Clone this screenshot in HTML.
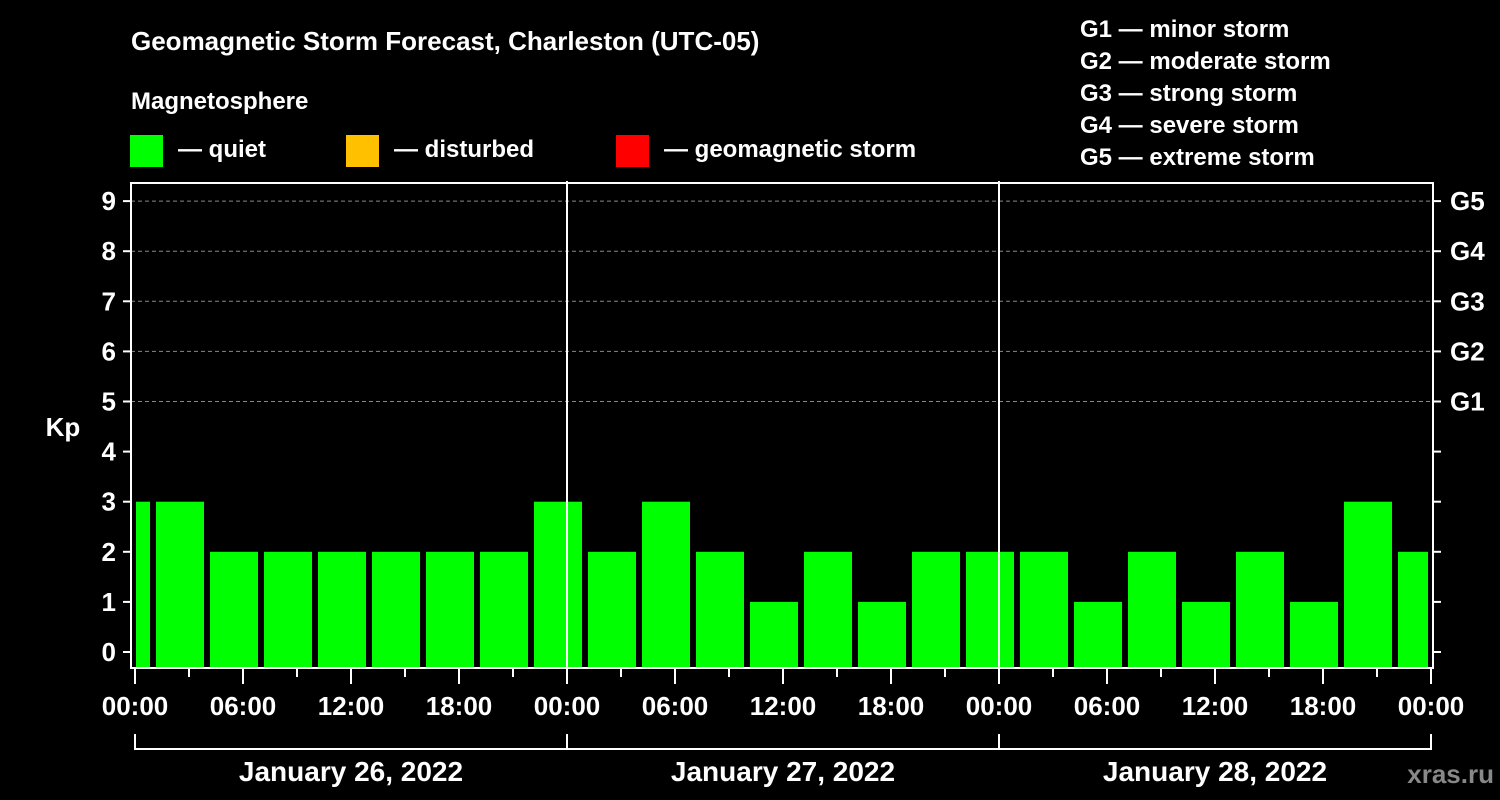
<!DOCTYPE html>
<html><head><meta charset="utf-8"><style>
html,body{margin:0;padding:0;background:#000;}
svg{display:block;font-family:"Liberation Sans",Arial,sans-serif;font-weight:bold;}
</style></head><body>
<svg id="chart" width="1500" height="800" viewBox="0 0 1500 800">
<rect x="0" y="0" width="1500" height="800" fill="#000"/>
<text x="131" y="50" fill="#fff" font-size="26">Geomagnetic Storm Forecast, Charleston (UTC-05)</text>
<text x="131" y="109" fill="#fff" font-size="24">Magnetosphere</text>
<g><rect x="130" y="135" width="33" height="32" fill="#00ff00"/><text x="178" y="157" fill="#fff" font-size="24">— quiet</text></g>
<g><rect x="346" y="135" width="33" height="32" fill="#ffc000"/><text x="394" y="157" fill="#fff" font-size="24">— disturbed</text></g>
<g><rect x="616" y="135" width="33" height="32" fill="#ff0000"/><text x="664" y="157" fill="#fff" font-size="24">— geomagnetic storm</text></g>
<g fill="#fff" font-size="24">
<text x="1080" y="37">G1 — minor storm</text>
<text x="1080" y="69">G2 — moderate storm</text>
<text x="1080" y="101">G3 — strong storm</text>
<text x="1080" y="133">G4 — severe storm</text>
<text x="1080" y="165">G5 — extreme storm</text>
</g>
<text x="63" y="436" fill="#fff" font-size="26" text-anchor="middle">Kp</text>
<text x="1494" y="783" fill="#888" font-size="26" text-anchor="end">xras.ru</text>
<g id="grid"></g><g id="bars"></g><g id="axes"></g>
</svg>
<script>
const kpValues=[3,3,2,2,2,2,2,2,3,2,3,2,1,2,1,2,2,2,1,2,1,2,1,3,2];
const barStartHours=[-2,1,4,7,10,13,16,19,22,25,28,31,34,37,40,43,46,49,52,55,58,61,64,67,70];
const yTicks=[0,1,2,3,4,5,6,7,8,9];
const gLabels=["G1","G2","G3","G4","G5"];
const gLevels=[5,6,7,8,9];
const xTickLabels=["00:00","06:00","12:00","18:00","00:00","06:00","12:00","18:00","00:00","06:00","12:00","18:00","00:00"];
const dayLabels=["January 26, 2022","January 27, 2022","January 28, 2022"];
const NS="http://www.w3.org/2000/svg";
const X0=135,PXH=18,HOURS=72,Y0=652,PXK=50.1;
const L=131,R=1433,T=183,B=668;
const xs=h=>X0+h*PXH, ys=k=>Y0-k*PXK;
function mk(tag,attrs,parent){const e=document.createElementNS(NS,tag);for(const k in attrs)e.setAttribute(k,attrs[k]);parent.appendChild(e);return e;}
const grid=document.getElementById('grid'),bars=document.getElementById('bars'),axes=document.getElementById('axes');
gLevels.forEach((k,i)=>{
  const l=mk('line',{x1:L,x2:R,y1:ys(k),y2:ys(k),stroke:'#888','stroke-dasharray':'4,3','stroke-width':1},grid);
  
  
  const t=mk('text',{x:1450,y:ys(k)+9,fill:'#fff','font-size':26},axes);t.textContent=gLabels[i];
  
  
});
kpValues.forEach((v,i)=>{
  let a=xs(barStartHours[i])+3,b=xs(barStartHours[i]+3)-3;
  a=Math.max(a,L+5);b=Math.min(b,R-5);
  const c=v>=5?'#ff0000':(v>=4?'#ffc000':'#00ff00');
  const r=mk('rect',{x:a,y:ys(v),width:b-a,height:B-ys(v),fill:c},bars);
  
  
});
const fr=mk('rect',{x:L,y:T,width:R-L,height:B-T,fill:'none',stroke:'#fff','stroke-width':2},axes);


[24,48].forEach(h=>{const l=mk('line',{x1:xs(h),x2:xs(h),y1:181,y2:B,stroke:'#fff','stroke-width':2},axes);
  
  });
yTicks.forEach(k=>{
  mk('line',{x1:123,x2:L,y1:ys(k),y2:ys(k),stroke:'#fff','stroke-width':2},axes);
  mk('line',{x1:R,x2:1441,y1:ys(k),y2:ys(k),stroke:'#fff','stroke-width':2},axes);
  const t=mk('text',{x:116,y:ys(k)+9,fill:'#fff','font-size':26,'text-anchor':'end'},axes);t.textContent=k;
  
  
});
for(let h=0;h<=HOURS;h+=3){
  const major=h%6===0;
  mk('line',{x1:xs(h),x2:xs(h),y1:B,y2:major?684:677,stroke:'#fff','stroke-width':2},axes);
}
xTickLabels.forEach((s,i)=>{
  const t=mk('text',{x:xs(i*6),y:715,fill:'#fff','font-size':26,'text-anchor':'middle'},axes);t.textContent=s;
  
  
});
const br=mk('path',{d:`M${xs(0)},734V749H${xs(72)}V734M${xs(24)},734V749M${xs(48)},734V749`,fill:'none',stroke:'#fff','stroke-width':2},axes);


dayLabels.forEach((s,i)=>{
  const t=mk('text',{x:xs(i*24+12),y:781,fill:'#fff','font-size':28,'text-anchor':'middle'},axes);t.textContent=s;
  
  
});
</script>
</body></html>
